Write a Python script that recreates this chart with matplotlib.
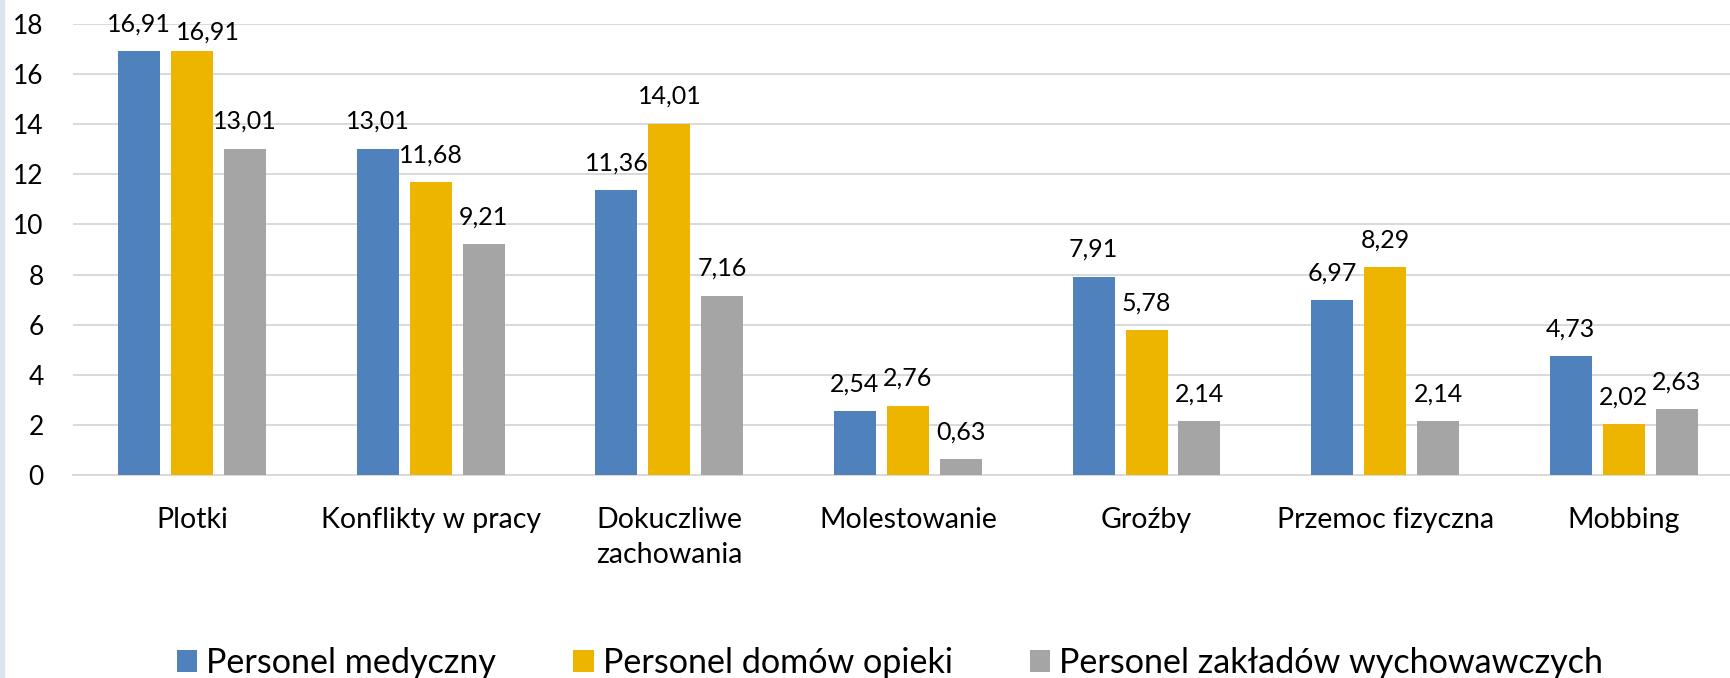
import numpy as np
import matplotlib
matplotlib.use("Agg")
import matplotlib.pyplot as plt
from matplotlib.patches import Rectangle

plt.rcParams['font.family'] = ['Lato', 'DejaVu Sans']

categories = ['Plotki', 'Konflikty w pracy', 'Dokuczliwe\nzachowania', 'Molestowanie',
              'Groźby', 'Przemoc fizyczna', 'Mobbing']
series_names = ['Personel medyczny', 'Personel domów opieki', 'Personel zakładów wychowawczych']
medyczny = [16.91, 13.01, 11.36, 2.54, 7.91, 6.97, 4.73]
domy_opieki = [16.91, 11.68, 14.01, 2.76, 5.78, 8.29, 2.02]
wychowawcze = [13.01, 9.21, 7.16, 0.63, 2.14, 2.14, 2.63]
colors = ['#4f81bd', '#eeb500', '#a5a5a5']

# label nudges (points) where Excel moved a label to avoid overlap
nudge = {(1, 0): (11, -6)}

fig = plt.figure(figsize=(17.31, 6.78), dpi=100)
ax = fig.add_axes([73 / 1731, 1 - 475 / 678, 1 - 73 / 1731, (475 - 24) / 678])

x = np.arange(len(categories))
pitch = 0.222
width = 0.176
data = [medyczny, domy_opieki, wychowawcze]
for i, (vals, name, c) in enumerate(zip(data, series_names, colors)):
    pos = x + (i - 1) * pitch
    ax.bar(pos, vals, width, color=c, label=name, zorder=3)
    for j, (px, v) in enumerate(zip(pos, vals)):
        dx, dy = nudge.get((i, j), (0, 0))
        ax.annotate(f'{v:.2f}'.replace('.', ','), (px, v), xytext=(dx, 14.4 + dy),
                    textcoords='offset points', ha='center', va='baseline',
                    fontsize=18, annotation_clip=False)

ax.set_xlim(-0.5, 6.45)
ax.set_ylim(0, 18)
ax.set_yticks(range(0, 19, 2))
ax.yaxis.grid(True, color='#d9d9d9', linewidth=1.4, zorder=0)
ax.set_axisbelow(True)
for s in ['top', 'right', 'left']:
    ax.spines[s].set_visible(False)
ax.spines['bottom'].set_color('#d9d9d9')
ax.spines['bottom'].set_linewidth(1.4)
ax.tick_params(axis='y', length=0, pad=21, labelsize=19)
ax.tick_params(axis='x', length=0, pad=23, labelsize=20.5)
ax.set_xticks(x)
ax.set_xticklabels(categories, linespacing=1.45, va='top')

fig.legend(loc='center', bbox_to_anchor=(890 / 1731, 15 / 678), ncol=3, frameon=False,
           fontsize=24.6, handlelength=0.6, handleheight=0.6, handletextpad=0.27,
           columnspacing=2.25, borderpad=0)

fig.patches.append(Rectangle((0, 0), 4 / 1731, 1, transform=fig.transFigure,
                             color='#dbe3ec', zorder=0))

fig.savefig('out.png', dpi=100)
